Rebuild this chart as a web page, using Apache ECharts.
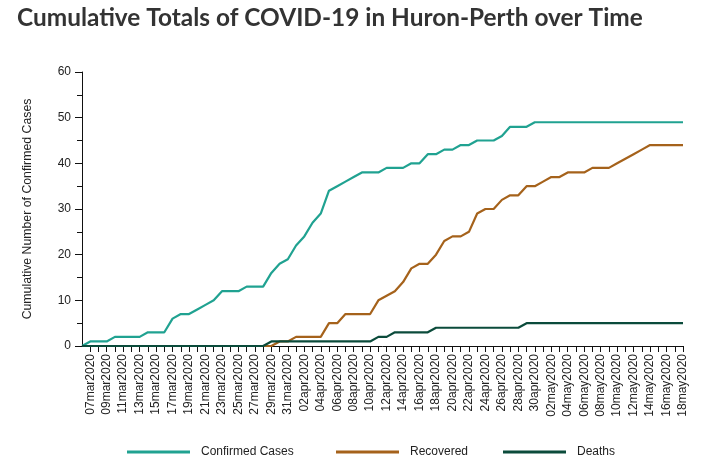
<!DOCTYPE html>
<html>
<head>
  <meta charset="utf-8">
  <title>Cumulative Totals of COVID-19 in Huron-Perth</title>
  <script src="https://cdn.jsdelivr.net/npm/echarts@6/dist/echarts.min.js"></script>
  <style>
    html, body { margin: 0; padding: 0; background: #fff; }
    #main { width: 724px; height: 471px; }
  </style>
</head>
<body>
<div id="main"></div>
<script type="text/javascript">
  // dates, one per day (06mar is the unlabelled start at the y axis)
  var dates = [
    '06mar2020','07mar2020','08mar2020','09mar2020','10mar2020','11mar2020','12mar2020','13mar2020',
    '14mar2020','15mar2020','16mar2020','17mar2020','18mar2020','19mar2020','20mar2020','21mar2020',
    '22mar2020','23mar2020','24mar2020','25mar2020','26mar2020','27mar2020','28mar2020','29mar2020',
    '30mar2020','31mar2020','01apr2020','02apr2020','03apr2020','04apr2020','05apr2020','06apr2020',
    '07apr2020','08apr2020','09apr2020','10apr2020','11apr2020','12apr2020','13apr2020','14apr2020',
    '15apr2020','16apr2020','17apr2020','18apr2020','19apr2020','20apr2020','21apr2020','22apr2020',
    '23apr2020','24apr2020','25apr2020','26apr2020','27apr2020','28apr2020','29apr2020','30apr2020',
    '01may2020','02may2020','03may2020','04may2020','05may2020','06may2020','07may2020','08may2020',
    '09may2020','10may2020','11may2020','12may2020','13may2020','14may2020','15may2020','16may2020',
    '17may2020','18may2020'
  ];

  var confirmed = [
    0,1,1,1,2,2,2,2,3,3,3,6,7,7,8,9,10,12,12,12,13,13,13,16,18,19,22,24,27,29,
    34,35,36,37,38,38,38,39,39,39,40,40,42,42,43,43,44,44,45,45,45,46,48,48,48,49,
    49,49,49,49,49,49,49,49,49,49,49,49,49,49,49,49,49,49
  ];

  var recovered = [
    0,0,0,0,0,0,0,0,0,0,0,0,0,0,0,0,0,0,0,0,0,0,0,0,1,1,2,2,2,2,
    5,5,7,7,7,7,10,11,12,14,17,18,18,20,23,24,24,25,29,30,30,32,33,33,35,35,
    36,37,37,38,38,38,39,39,39,40,41,42,43,44,44,44,44,44
  ];

  var deaths = [
    0,0,0,0,0,0,0,0,0,0,0,0,0,0,0,0,0,0,0,0,0,0,0,1,1,1,1,1,1,1,
    1,1,1,1,1,1,2,2,3,3,3,3,3,4,4,4,4,4,4,4,4,4,4,4,5,5,
    5,5,5,5,5,5,5,5,5,5,5,5,5,5,5,5,5,5
  ];

  var seriesNames = ['Confirmed Cases', 'Recovered', 'Deaths'];
  var seriesColors = ['#20a291', '#a5621b', '#0b4b3b'];

  var myChart = echarts.init(document.getElementById('main'), null, { renderer: 'canvas' });

  var legendText = { fontFamily: 'Liberation Sans', fontSize: 12, color: '#222', padding: [0, 0, 0, 6] };
  function oneLegend(name, left) {
    return {
      data: [name],
      left: left,
      top: 441,
      icon: 'rect',
      itemWidth: 63,
      itemHeight: 3,
      textStyle: legendText,
      selectedMode: false
    };
  }

  var option = {
    animation: false,
    backgroundColor: '#fff',
    title: {
      text: 'Cumulative Totals of COVID-19 in Huron-Perth over Time',
      left: 12,
      top: 1,
      textStyle: { fontFamily: 'Lato', fontWeight: 700, fontSize: 24.4, color: '#333' }
    },
    legend: [
      oneLegend(seriesNames[0], 122),
      oneLegend(seriesNames[1], 331),
      oneLegend(seriesNames[2], 498)
    ],
    grid: { left: 82, right: 41, top: 72, bottom: 125 },
    xAxis: {
      type: 'category',
      boundaryGap: false,
      data: dates,
      axisLine: { lineStyle: { color: '#111', width: 1 } },
      axisTick: {
        length: 6,
        lineStyle: { color: '#111' },
        interval: function (i) { return i > 0; }
      },
      axisLabel: {
        rotate: 90,
        margin: 8,
        fontFamily: 'Liberation Sans',
        fontSize: 12,
        color: '#222',
        interval: function (i) { return i % 2 === 1; }
      },
      splitLine: { show: false }
    },
    yAxis: {
      type: 'value',
      min: 0,
      max: 60,
      interval: 10,
      name: 'Cumulative Number of Confirmed Cases',
      nameLocation: 'middle',
      nameGap: 48,
      nameTextStyle: { fontFamily: 'Liberation Sans', fontSize: 12.3, color: '#222' },
      axisLine: { show: true, lineStyle: { color: '#111', width: 1 } },
      axisTick: { show: true, length: 7, lineStyle: { color: '#111' } },
      minorTick: { show: true, splitNumber: 2, length: 5, lineStyle: { color: '#111' } },
      axisLabel: { margin: 11, fontFamily: 'Liberation Sans', fontSize: 12, color: '#222' },
      splitLine: { show: false }
    },
    series: [
      {
        name: seriesNames[0], type: 'line', data: confirmed, showSymbol: false,
        color: seriesColors[0], lineStyle: { width: 2.2, color: seriesColors[0] }
      },
      {
        name: seriesNames[1], type: 'line', data: recovered, showSymbol: false,
        color: seriesColors[1], lineStyle: { width: 2.2, color: seriesColors[1] }
      },
      {
        name: seriesNames[2], type: 'line', data: deaths, showSymbol: false,
        color: seriesColors[2], lineStyle: { width: 2.2, color: seriesColors[2] }
      }
    ]
  };

  myChart.setOption(option);
</script>
</body>
</html>
